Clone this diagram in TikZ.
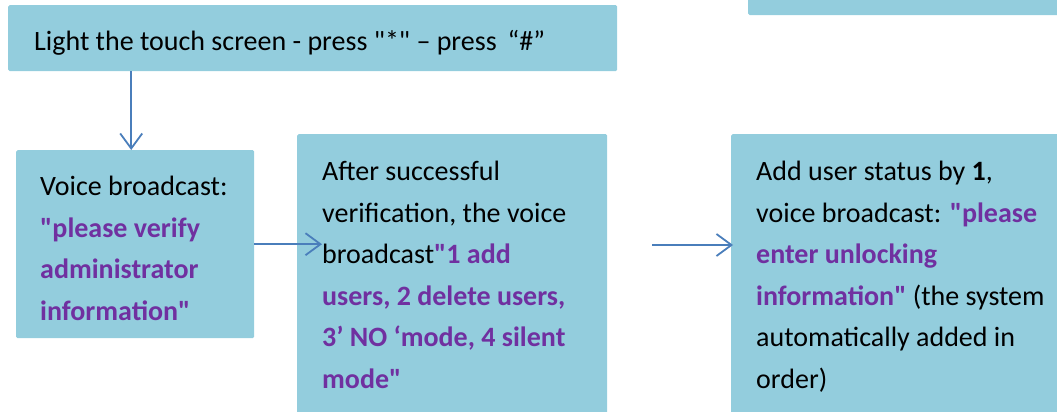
\documentclass[tikz,border=0pt]{standalone}
\usepackage{fontspec}
\setmainfont{Carlito}[Ligatures=TeXOff]
\usetikzlibrary{arrows.meta}
\definecolor{boxfill}{HTML}{93CDDD}
\definecolor{arrowblue}{HTML}{4A7EBB}
\definecolor{vpurple}{HTML}{7030A0}
\newcommand\pp[1]{\textcolor{vpurple}{\textbf{#1}}}
\begin{document}
\begin{tikzpicture}[x=1pt,y=-1pt,
  box/.style={fill=boxfill, draw=none, rounded corners=1.5pt, inner sep=0pt, anchor=north west},
  lbl/.style={anchor=base west, inner sep=0pt, align=left, font=\fontsize{28}{41.5}\selectfont},
  arr/.style={draw=arrowblue, line width=1.8pt, -{Straight Barb[length=15pt,width=22pt]}}]
\useasboundingbox (0,0) rectangle (1057,412);
\clip (0,0) rectangle (1057,412);
% boxes
\node[box, minimum width=609pt, minimum height=66pt] (T) at (8,5) {};
\node[box, minimum width=238pt, minimum height=188pt] (A) at (16,150) {};
\node[box, minimum width=310pt, minimum height=300pt] (B) at (297,134) {};
\node[box, minimum width=340pt, minimum height=300pt] (C) at (731,134) {};
\node[box, minimum width=340pt, minimum height=40pt] (TR) at (748,-25) {};
% texts (anchored at the baseline of the last line)
\node[lbl] (tT) at (34,51) {Light the touch screen - press "*" – press \,“\#”};
\node[lbl] (tA) at (40,320) {Voice broadcast:\\ \pp{"please verify}\\ \pp{administrator}\\ \pp{information"}};
\node[lbl] (tB) at (322,388) {After successful\\ verification, the voice\\ broadcast\pp{"1 add}\\ \pp{users, 2 delete users,}\\ \pp{3’ NO ‘mode, 4 silent}\\ \pp{mode"}};
\node[lbl] (tC) at (756,388) {Add user status by \textbf{1},\\ voice broadcast: \pp{"please}\\ \pp{enter unlocking}\\ \pp{information"} (the system\\ automatically added in\\ order)};
% connectors
\coordinate (c2s) at (652,245);
\draw[arr] ([xshift=-4pt]A.north |- T.south) -- ([xshift=-4pt]A.north);
\draw[arr] (A.east) -- ([xshift=25pt]B.west |- A.east);
\draw[arr] (c2s) -- ([xshift=2pt]C.west |- c2s);
\end{tikzpicture}
\end{document}
